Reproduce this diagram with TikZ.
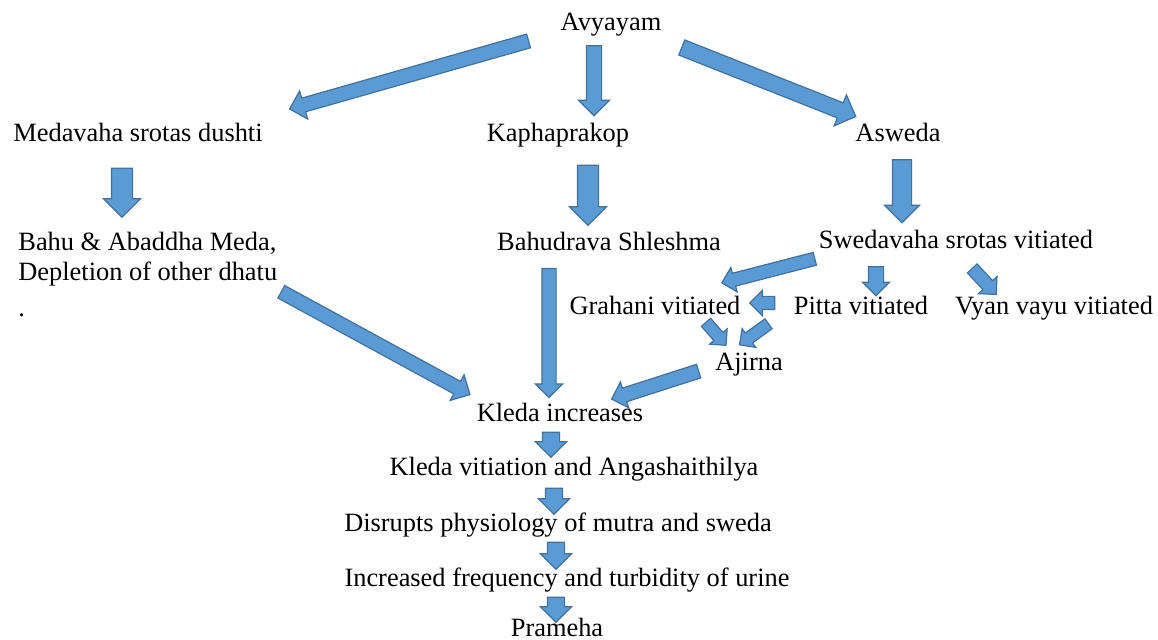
\documentclass[tikz,border=0pt]{standalone}
\usepackage{fontspec}
\setmainfont{Liberation Serif}
\usetikzlibrary{calc,shapes.arrows}
\definecolor{arrowBlue}{HTML}{5B9BD5}
\definecolor{arrowBorder}{HTML}{41719C}
\tikzset{
    label/.style={inner sep=0pt,font=\fontsize{13.2}{15}\selectfont,
        text height=2.0ex,text depth=0.25ex},
    blockarrow/.style 2 args={single arrow,draw=arrowBorder,fill=arrowBlue,
        line width=0.6pt,inner xsep=0pt,inner ysep=#1,minimum width=0pt,
        single arrow head extend=#2,single arrow tip angle=90}
}
% block arrow between two points: from, to, half shaft, head extend
\newcommand{\flowarrow}[4]{%
    \path let \p1=(#1), \p2=(#2), \n1={veclen(\x2-\x1,\y2-\y1)} in
        (\p1) -- (\p2) node[midway,sloped,allow upside down,
        blockarrow={#3}{#4},minimum height=\n1] {};}

\begin{document}
\begin{tikzpicture}[x=0.5pt,y=-0.5pt]
    \useasboundingbox (0,0) rectangle (1158,640);
    \node[label] (avy) at (611,22) {Avyayam};
    \node[label] (meda) at (138,133) {Medavaha srotas dushti};
    \node[label] (kapha) at (558,133) {Kaphaprakop};
    \node[label] (asweda) at (898,133) {Asweda};
    \node[inner sep=0pt,font=\fontsize{13.2}{15}\selectfont,align=left,
        anchor=north west] (bahu) at (18,232)
        {Bahu \& Abaddha Meda,\\Depletion of other dhatu\\[3pt].};
    \node[label] (bahudrava) at (609,242) {Bahudrava Shleshma};
    \node[label] (swed) at (956,240) {Swedavaha srotas vitiated};
    \node[label] (grahani) at (655,306) {Grahani vitiated};
    \node[label] (pitta) at (861,306) {Pitta vitiated};
    \node[label] (vyan) at (1054,306) {Vyan vayu vitiated};
    \node[label] (ajirna) at (749,362) {Ajirna};
    \node[label] (kleda) at (560,413) {Kleda increases};
    \node[label] (kvit) at (574,467) {Kleda vitiation and Angashaithilya};
    \node[label] (disrupt) at (558,523) {Disrupts physiology of mutra and sweda};
    \node[label] (incr) at (567,578) {Increased frequency and turbidity of urine};
    \node[label] (prameha) at (557,628) {Prameha};

    % first level
    \flowarrow{$(avy)+(-79,18)$}{$(meda)+(155,-25)$}{3.25pt}{3.75pt}
    \flowarrow{$(avy)+(-17,20)$}{$(kapha)+(36,-21)$}{3.5pt}{4pt}
    \flowarrow{$(avy)+(67,24)$}{$(asweda)+(-46,-18)$}{3.75pt}{4.25pt}
    \flowarrow{$(meda)+(-16,30)$}{$(bahu.north west)+(104,-20)$}{5pt}{4pt}
    \flowarrow{$(kapha)+(30,27)$}{$(bahudrava)+(-21,-22)$}{5pt}{4pt}
    \flowarrow{$(asweda)+(4,22)$}{$(swed)+(-54,-22)$}{4.5pt}{4pt}
    % into kleda
    \flowarrow{$(bahu.north west)+(260,58)$}{$(kleda)+(-93,-20)$}{3.25pt}{3.75pt}
    \flowarrow{$(bahudrava)+(-60,23)$}{$(kleda)+(-11,-19)$}{3.25pt}{3.25pt}
    % sweda branch
    \flowarrow{$(swed)+(-138,18)$}{$(grahani)+(70,-24)$}{3pt}{3pt}
    \flowarrow{$(swed)+(-80,23)$}{$(pitta)+(15,-14)$}{3.5pt}{3pt}
    \flowarrow{$(swed)+(14,26)$}{$(vyan)+(-60,-14)$}{3pt}{3pt}
    \flowarrow{$(pitta)+(-83,-3)$}{$(grahani)+(98,-3)$}{3pt}{3pt}
    \flowarrow{$(grahani)+(49,14)$}{$(ajirna)+(-25,-19)$}{2.75pt}{2.75pt}
    \flowarrow{$(pitta)+(-90,16)$}{$(ajirna)+(-7,-19)$}{2.75pt}{2.75pt}
    \flowarrow{$(ajirna)+(-47,8)$}{$(kleda)+(55,-15)$}{3.25pt}{3.25pt}
    % chain down
    \flowarrow{$(kleda)+(-9,15)$}{$(kvit)+(-23,-14)$}{4pt}{3.5pt}
    \flowarrow{$(kvit)+(-20,17)$}{$(disrupt)+(-4,-13)$}{4pt}{3.5pt}
    \flowarrow{$(disrupt)+(-2,15)$}{$(incr)+(-11,-13)$}{4pt}{3.5pt}
    \flowarrow{$(incr)+(-11,15)$}{$(prameha)+(-1,-10)$}{4pt}{3.5pt}
\end{tikzpicture}
\end{document}
